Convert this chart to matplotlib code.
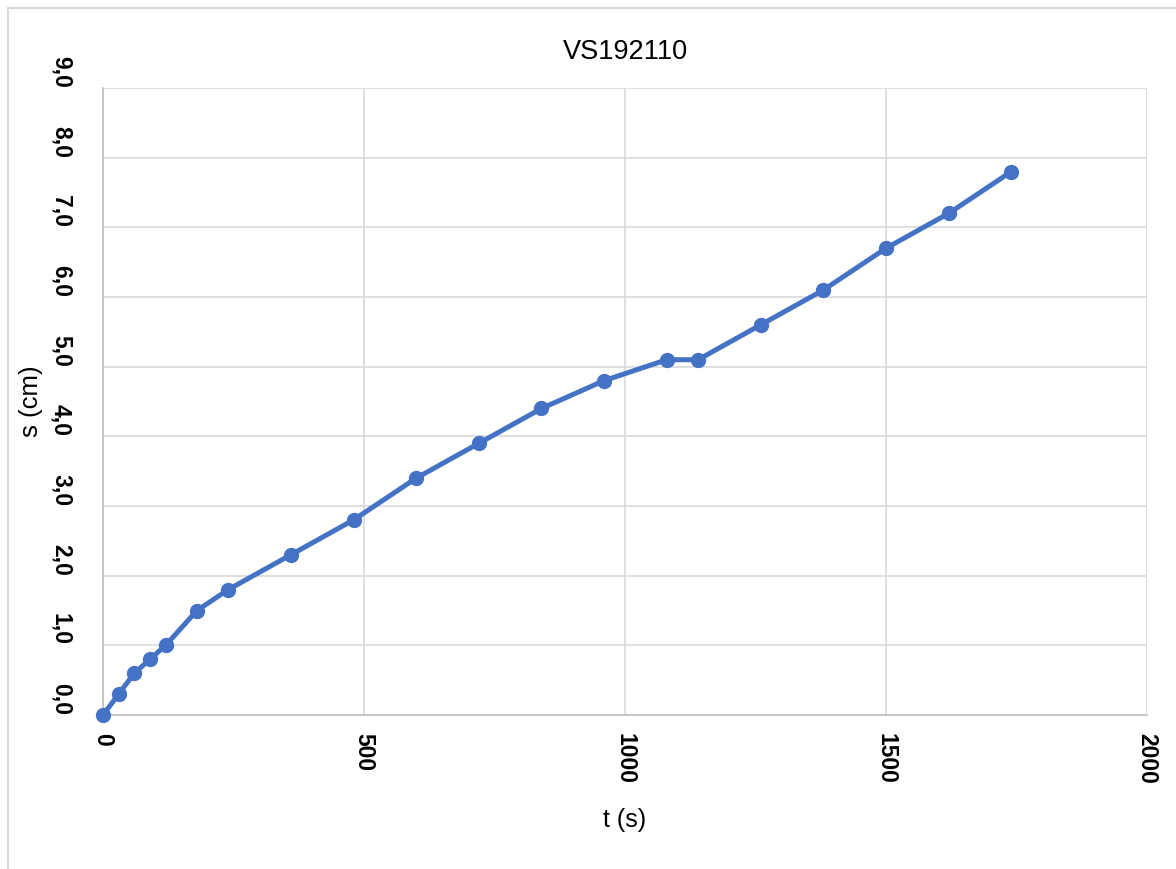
import matplotlib
matplotlib.use("Agg")
import matplotlib.pyplot as plt
from matplotlib.patches import Rectangle

t = [0, 30, 60, 90, 120, 180, 240, 360, 480, 600, 720, 840, 960, 1080, 1140, 1260, 1380, 1500, 1620, 1740]
s = [0.0, 0.3, 0.6, 0.8, 1.0, 1.5, 1.8, 2.3, 2.8, 3.4, 3.9, 4.4, 4.8, 5.1, 5.1, 5.6, 6.1, 6.7, 7.2, 7.8]
x_ticks = [0, 500, 1000, 1500, 2000]
y_ticks = [0, 1, 2, 3, 4, 5, 6, 7, 8, 9]
y_tick_labels = ["0,0", "1,0", "2,0", "3,0", "4,0", "5,0", "6,0", "7,0", "8,0", "9,0"]

plt.rcParams['font.family'] = ['Liberation Sans', 'DejaVu Sans']

fig = plt.figure(figsize=(11.76, 8.69), dpi=100)
fig.patches.append(Rectangle((8/1176, -0.01), 1.2, 1 - 8/869 + 0.01, transform=fig.transFigure,
                             fill=False, edgecolor='#D9D9D9', linewidth=1.5))
ax = fig.add_axes([103/1176, 1 - 715/869, (1147 - 103)/1176, (715 - 88)/869])

ax.plot(t, s, color='#4472C4', linewidth=3.6, marker='o', markersize=10, zorder=3, clip_on=False)

ax.set_xlim(0, 2000)
ax.set_ylim(0, 9)
ax.set_xticks(x_ticks)
ax.set_xticklabels([str(v) for v in x_ticks], rotation=-90, fontsize=16.5, fontweight='bold',
                   va='top', ha='center')
ax.set_yticks(y_ticks)
ax.set_yticklabels(y_tick_labels, rotation=-90, fontsize=16.5, fontweight='bold',
                   va='bottom', ha='right')
ax.tick_params(axis='x', length=0, pad=13)
ax.tick_params(axis='y', length=0, pad=22)

ax.grid(True, color='#D9D9D9', linewidth=1.2)
ax.set_axisbelow(True)
for side in ['top', 'right']:
    ax.spines[side].set_visible(False)
for side in ['left', 'bottom']:
    ax.spines[side].set_color('#BFBFBF')
    ax.spines[side].set_linewidth(1.2)

ax.set_title('VS192110', fontsize=19.5, pad=21)
ax.set_xlabel('t (s)', fontsize=18)
ax.set_ylabel('s (cm)', fontsize=18.5)
ax.xaxis.set_label_coords(0.5, -0.148)
ax.yaxis.set_label_coords(-0.0575, 0.5)

fig.savefig('out.png', dpi=100)
